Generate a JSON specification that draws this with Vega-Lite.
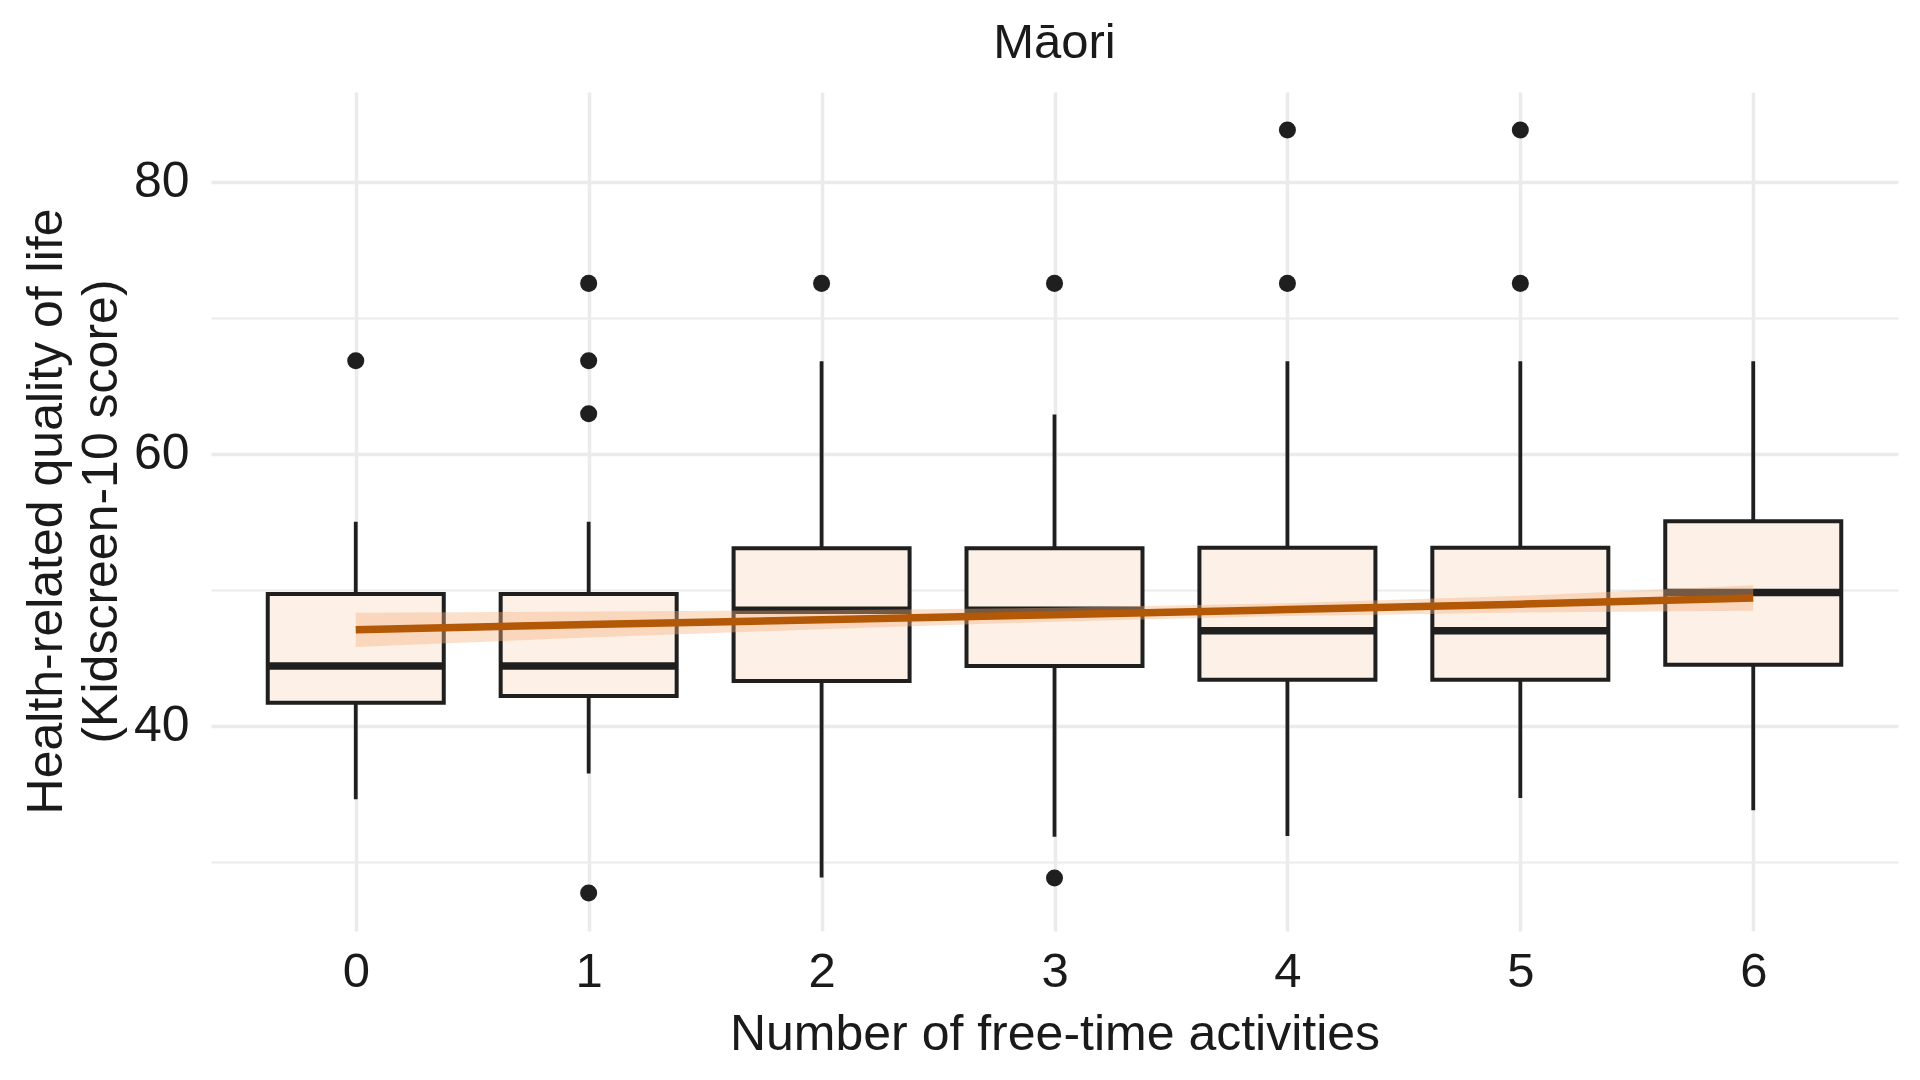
{
  "$schema": "https://vega.github.io/schema/vega-lite/v6.json",
  "width": 1687,
  "height": 839,
  "autosize": {"type": "none"},
  "padding": {"left": 211, "top": 92, "right": 22, "bottom": 149},
  "background": "white",
  "title": {"text": "Māori", "fontSize": 49, "font": "Liberation Sans", "fontWeight": "normal", "anchor": "middle", "baseline": "bottom", "offset": -25, "color": "#1a1a1a"},
  "config": {
    "view": {"stroke": null},
    "axis": {"labelFont": "Liberation Sans", "titleFont": "Liberation Sans", "labelColor": "#1a1a1a", "titleColor": "#1a1a1a", "titleFontWeight": "normal", "domain": false, "ticks": false, "gridColor": "#EBEBEB"}
  },
  "datasets": {
    "boxes": [
      {"activities": 0, "lower": 34.6, "q1": 41.7, "median": 44.4, "q3": 49.7, "upper": 55.0},
      {"activities": 1, "lower": 36.5, "q1": 42.2, "median": 44.4, "q3": 49.7, "upper": 55.0},
      {"activities": 2, "lower": 28.85, "q1": 43.3, "median": 48.5, "q3": 53.05, "upper": 66.8},
      {"activities": 3, "lower": 31.85, "q1": 44.4, "median": 48.5, "q3": 53.05, "upper": 62.9},
      {"activities": 4, "lower": 31.9, "q1": 43.4, "median": 47.0, "q3": 53.1, "upper": 66.8},
      {"activities": 5, "lower": 34.7, "q1": 43.4, "median": 47.0, "q3": 53.1, "upper": 66.8},
      {"activities": 6, "lower": 33.8, "q1": 44.5, "median": 49.8, "q3": 55.05, "upper": 66.8}
    ],
    "outliers": [
      {"activities": 0, "score": 66.84},
      {"activities": 1, "score": 72.53},
      {"activities": 1, "score": 66.84},
      {"activities": 1, "score": 62.94},
      {"activities": 1, "score": 27.72},
      {"activities": 2, "score": 72.53},
      {"activities": 3, "score": 72.53},
      {"activities": 3, "score": 28.82},
      {"activities": 4, "score": 83.8},
      {"activities": 4, "score": 72.53},
      {"activities": 5, "score": 83.8},
      {"activities": 5, "score": 72.53}
    ],
    "fit": [
      {"activities": 0, "fit": 47.06, "lo": 45.8, "hi": 48.32},
      {"activities": 1, "fit": 47.45, "lo": 46.5, "hi": 48.4},
      {"activities": 2, "fit": 47.8, "lo": 47.1, "hi": 48.5},
      {"activities": 3, "fit": 48.17, "lo": 47.66, "hi": 48.68},
      {"activities": 4, "fit": 48.55, "lo": 48.08, "hi": 49.02},
      {"activities": 5, "fit": 48.95, "lo": 48.34, "hi": 49.56},
      {"activities": 6, "fit": 49.4, "lo": 48.46, "hi": 50.34}
    ]
  },
  "layer": [
    {
      "data": {"name": "boxes"},
      "mark": {"type": "rule", "color": "#1f1f1f", "strokeWidth": 3.8},
      "encoding": {
        "x": {"field": "activities", "type": "quantitative",
          "scale": {"domain": [-0.6, 6.6], "nice": false, "zero": false},
          "axis": {"values": [0, 1, 2, 3, 4, 5, 6], "format": "d", "title": "Number of free-time activities", "labelFontSize": 49, "titleFontSize": 50, "labelPadding": 16, "gridWidth": 3.5, "titleBaseline": "alphabetic", "titleY": 118}},
        "y": {"field": "lower", "type": "quantitative",
          "scale": {"domain": [24.92, 86.6], "nice": false, "zero": false},
          "axis": {"values": [30, 40, 50, 60, 70, 80], "labelExpr": "datum.value % 20 == 0 ? datum.label : ''",
            "gridWidth": {"condition": {"test": "datum.value % 20 == 0", "value": 3.5}, "value": 2},
            "title": ["Health-related quality of life", "(Kidscreen-10 score)"],
            "labelFontSize": 50, "titleFontSize": 50, "labelPadding": 22, "titleLineHeight": 55,
            "titleAngle": -90, "titleAlign": "center", "titleBaseline": "alphabetic", "titleX": -150, "titleY": 419}},
        "y2": {"field": "upper"}
      }
    },
    {
      "data": {"name": "boxes"},
      "mark": {"type": "bar", "width": 176, "fill": "#FDF1E7", "stroke": "#1f1f1f", "strokeWidth": 4},
      "encoding": {
        "x": {"field": "activities", "type": "quantitative"},
        "y": {"field": "q1", "type": "quantitative"},
        "y2": {"field": "q3"}
      }
    },
    {
      "data": {"name": "boxes"},
      "mark": {"type": "tick", "orient": "horizontal", "size": 176, "thickness": 7.5, "color": "#1f1f1f", "opacity": 1},
      "encoding": {
        "x": {"field": "activities", "type": "quantitative"},
        "y": {"field": "median", "type": "quantitative"}
      }
    },
    {
      "data": {"name": "outliers"},
      "mark": {"type": "circle", "size": 290, "color": "#1f1f1f", "opacity": 1},
      "encoding": {
        "x": {"field": "activities", "type": "quantitative"},
        "y": {"field": "score", "type": "quantitative"}
      }
    },
    {
      "data": {"name": "fit"},
      "mark": {"type": "area", "color": "#F5B17D", "opacity": 0.4},
      "encoding": {
        "x": {"field": "activities", "type": "quantitative"},
        "y": {"field": "lo", "type": "quantitative"},
        "y2": {"field": "hi"}
      }
    },
    {
      "data": {"name": "fit"},
      "mark": {"type": "line", "color": "#B35806", "strokeWidth": 7.5},
      "encoding": {
        "x": {"field": "activities", "type": "quantitative"},
        "y": {"field": "fit", "type": "quantitative"}
      }
    }
  ]
}
